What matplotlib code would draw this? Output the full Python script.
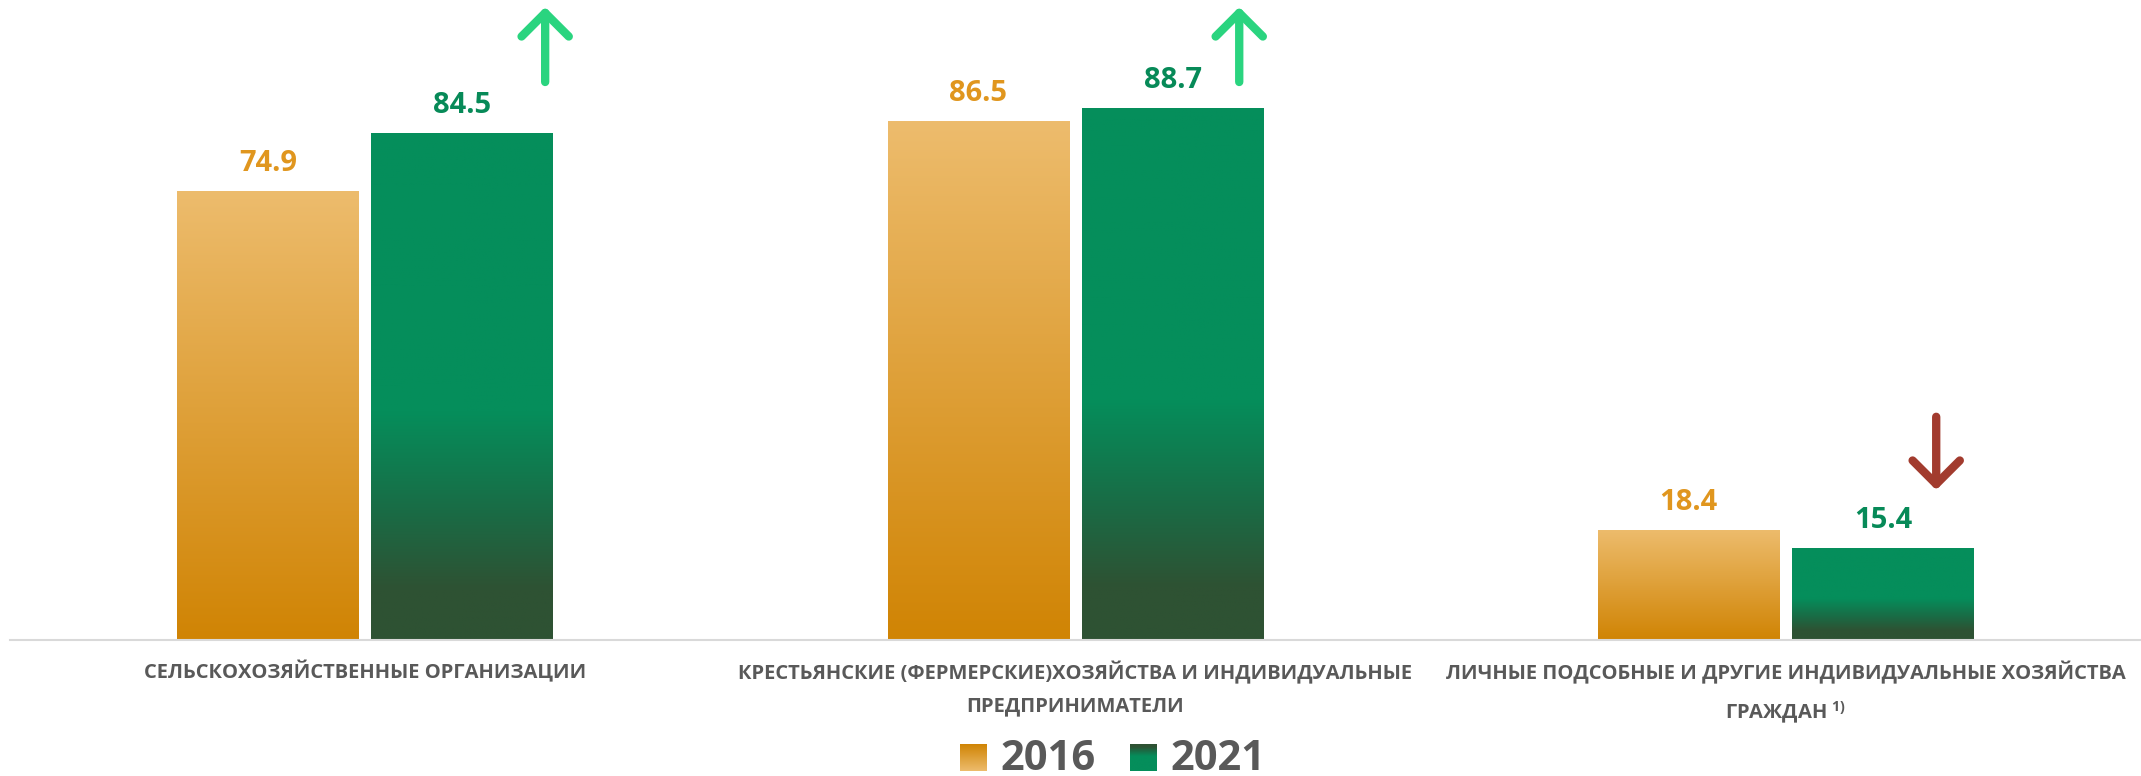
import numpy as np
import matplotlib.pyplot as plt
from matplotlib.colors import LinearSegmentedColormap
from matplotlib.patches import FancyArrowPatch, ArrowStyle

categories = [
    'СЕЛЬСКОХОЗЯЙСТВЕННЫЕ ОРГАНИЗАЦИИ',
    'КРЕСТЬЯНСКИЕ (ФЕРМЕРСКИЕ)ХОЗЯЙСТВА И ИНДИВИДУАЛЬНЫЕ\nПРЕДПРИНИМАТЕЛИ',
    'ЛИЧНЫЕ ПОДСОБНЫЕ И ДРУГИЕ ИНДИВИДУАЛЬНЫЕ ХОЗЯЙСТВА\nГРАЖДАН $^{\\mathbf{1)}}$',
]
years = ['2016', '2021']
values_2016 = [74.9, 86.5, 18.4]
values_2021 = [84.5, 88.7, 15.4]
trend = ['up', 'up', 'down']

plt.rcParams['font.family'] = ['Open Sans', 'DejaVu Sans']
plt.rcParams['mathtext.fontset'] = 'custom'
plt.rcParams['mathtext.rm'] = 'Open Sans'
plt.rcParams['mathtext.bf'] = 'Open Sans:bold'

GRAY = '#595959'
orange_cmap = LinearSegmentedColormap.from_list('o', [(0, '#D08404'), (1, '#EDBC6D')])
green_cmap = LinearSegmentedColormap.from_list(
    'g', [(0, '#2E5233'), (0.1, '#2E5233'), (0.25, '#1A6B45'), (0.45, '#058E5B'), (1, '#058E5B')])
label_colors = ['#E0961E', '#078A58']

W, H = 2141, 776
YTOP = 640 / 6.0
fig = plt.figure(figsize=(W / 100, H / 100), dpi=100)
ax = fig.add_axes([10 / W, 136 / H, 1 - 10 / W, 640 / H])

x = np.arange(len(categories))
width = 0.256
off = 0.1366
bars_a = ax.bar(x - off, values_2016, width, color='none', edgecolor='none')
bars_b = ax.bar(x + off, values_2021, width, color='none', edgecolor='none')

grad = np.linspace(0, 1, 256).reshape(-1, 1)


def fill(bars, cmap):
    for b in bars:
        x0, y0 = b.get_x(), b.get_y()
        im = ax.imshow(grad, cmap=cmap, origin='lower', aspect='auto',
                       extent=[x0, x0 + b.get_width(), y0, y0 + b.get_height()], zorder=2)
        im.set_clip_path(b)


fill(bars_a, orange_cmap)
fill(bars_b, green_cmap)
ax.set_xlim(-0.5, 2.5)
ax.set_ylim(0, YTOP)

for bars, vals, c in [(bars_a, values_2016, label_colors[0]), (bars_b, values_2021, label_colors[1])]:
    for b, v in zip(bars, vals):
        ax.annotate(f'{v:.1f}', xy=(b.get_x() + b.get_width() / 2, v), xytext=(0, 14.4),
                    textcoords='offset points', ha='center', va='baseline',
                    fontsize=21, fontweight='bold', color=c)

for i, cat in enumerate(categories):
    ax.annotate(cat, xy=(i, 0), xycoords=('data', 'axes fraction'), xytext=(0, -15),
                textcoords='offset points', ha='center', va='top', multialignment='center',
                fontsize=14.5, fontweight='bold', color=GRAY, linespacing=1.8,
                annotation_clip=False)

# trend arrows
arrow_dx = [0.2534, 0.2305, 0.2117]
for i, t in enumerate(trend):
    xa = i + arrow_dx[i]
    if t == 'up':
        tail, tip, col = 93.0, 105.5, '#2AD47F'
    else:
        tail, tip, col = values_2021[i] + 21.8, values_2021[i] + 9.6, '#A23B2E'
    arr = FancyArrowPatch((xa, tail), (xa, tip),
                          arrowstyle=ArrowStyle('->', head_length=17, head_width=17),
                          mutation_scale=1, lw=6, color=col, shrinkA=0, shrinkB=0,
                          capstyle='round', joinstyle='round', clip_on=False, zorder=4)
    ax.add_patch(arr)

for s in ['top', 'right', 'left']:
    ax.spines[s].set_visible(False)
ax.spines['bottom'].set_color('#D9D9D9')
ax.spines['bottom'].set_linewidth(1.5)
ax.set_yticks([])
ax.set_xticks([])

# legend
for (lx, tx), yr, cmap in zip([(960, 1000), (1130, 1170)], years, [orange_cmap, green_cmap]):
    lax = fig.add_axes([lx / W, 5 / H, 27 / W, 27 / H])
    lax.imshow(grad, cmap=cmap, origin='upper', aspect='auto')
    lax.axis('off')
    fig.text(tx / W, 16 / H, yr, fontsize=30, fontweight='bold', color=GRAY,
             ha='left', va='center')

fig.savefig('out.png', dpi=100)
